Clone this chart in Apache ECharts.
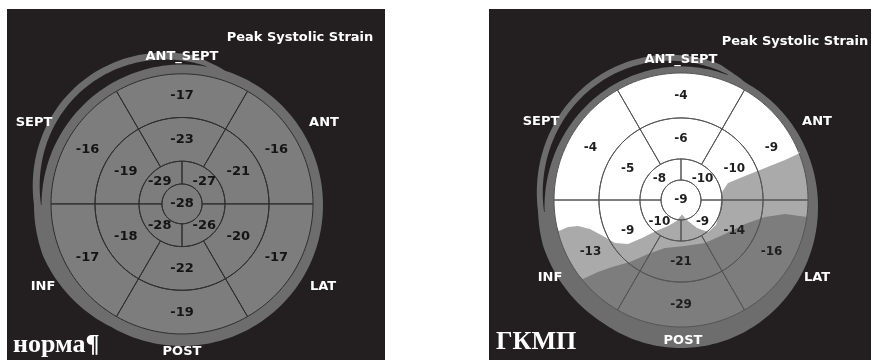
<!DOCTYPE html>
<html>
<head>
<meta charset="utf-8">
<script src="https://cdn.jsdelivr.net/npm/echarts@6/dist/echarts.min.js"></script>
<style>
  html, body { margin: 0; padding: 0; background: #ffffff; }
  #chart { width: 876px; height: 360px; }
</style>
</head>
<body>
<div id="chart"></div>
<script>
// Peak systolic longitudinal strain (%), 17-segment bull's-eye maps.
// Basal and mid rings run clockwise from the anteroseptal (top) segment,
// apical ring runs clockwise from the upper-right quadrant.
const wallLabels = ['ANT_SEPT', 'ANT', 'LAT', 'POST', 'INF', 'SEPT'];
const mapTitle = 'Peak Systolic Strain';
const panelTitles = ['норма¶', 'ГКМП'];

const normBasal  = [-17, -16, -17, -19, -17, -16];
const normMid    = [-23, -21, -20, -22, -18, -19];
const normApical = [-27, -26, -28, -29];
const normApex   = [-28];

const hcmBasal  = [-4, -9, -16, -29, -13, -4];
const hcmMid    = [-6, -10, -14, -21, -9, -5];
const hcmApical = [-10, -9, -10, -8];
const hcmApex   = [-9];

// Iso-strain boundaries of the HCM map, in bull's-eye radius units (x right, y up),
// listed from the septal side to the lateral side.
const hcmIsoWhite = [
  [-0.961, -0.244], [-0.890, -0.213], [-0.811, -0.205], [-0.717, -0.228],
  [-0.614, -0.283], [-0.520, -0.339], [-0.417, -0.346], [-0.307, -0.299],
  [-0.197, -0.244], [-0.102, -0.205], [-0.035, -0.165], [0.008, -0.115],
  [0.045, -0.158], [0.126, -0.220], [0.213, -0.252], [0.276, -0.197],
  [0.307, -0.079], [0.323, 0.063], [0.370, 0.134], [0.504, 0.189],
  [0.661, 0.252], [0.819, 0.315], [0.937, 0.370]
];
const hcmIsoLight = [
  [-0.772, -0.622], [-0.654, -0.567], [-0.543, -0.528], [-0.402, -0.488],
  [-0.260, -0.425], [-0.126, -0.378], [0.031, -0.362], [0.189, -0.339],
  [0.346, -0.268], [0.504, -0.189], [0.661, -0.134], [0.819, -0.110],
  [0.992, -0.134]
];

const BG = '#231f20';
const RING_GRAY = '#6d6d6d';
const bandColors = ['#7d7d7d', '#aaaaaa', '#ffffff'];

const panels = [
  {
    frame: [7, 9, 378, 351], cx: 182, cy: 205, R: 131,
    edges: [0, 0.153, 0.328, 0.664, 1],
    ring: { cx: 182, cy: 205, rx: 141, ry: 141, c0: 80, c1: 180, cMax: 11, b0: 72, b1: 240, bMax: 7 },
    lineColor: '#2e2e2e', valueColor: '#141414', valueFont: 'bold 13px "DejaVu Sans"',
    rings: [normBasal, normMid, normApical, normApex],
    bands: [{ level: 0, iso: null }],
    title: panelTitles[0], titlePos: [13, 345], captionPos: [300, 38],
    wallPos: [[182, 57], [324, 123], [323, 287], [182, 352], [43, 287], [34, 123]]
  },
  {
    frame: [489, 9, 382, 351], cx: 681, cy: 200, R: 127,
    edges: [0, 0.157, 0.323, 0.646, 1],
    ring: { cx: 681, cy: 207, rx: 137, ry: 141, c0: 70, c1: 182, cMax: 9, b0: 62, b1: 235, bMax: 6 },
    lineColor: '#555555', valueColor: '#1e1e1e', valueFont: 'bold 12px "DejaVu Sans"',
    rings: [hcmBasal, hcmMid, hcmApical, hcmApex],
    bands: [{ level: 0, iso: null }, { level: 1, iso: hcmIsoLight }, { level: 2, iso: hcmIsoWhite }],
    title: panelTitles[1], titlePos: [496, 342], captionPos: [795, 42],
    wallPos: [[681, 60], [817, 122], [817, 278], [683, 341], [550, 278], [541, 122]]
  }
];

const DEG = Math.PI / 180;

// Shaded band of one strain level: full disk, or the part of the disk above an iso line
function bandRenderer(panel) {
  return function (params, api) {
    const band = panel.bands[params.dataIndex];
    let pts = [];
    if (!band.iso) {
      for (let a = 0; a < 360; a += 2) pts.push([Math.cos(a * DEG), Math.sin(a * DEG)]);
    } else {
      pts = band.iso.slice();
      const first = pts[0], last = pts[pts.length - 1];
      const aS = Math.atan2(last[1], last[0]);
      let aE = Math.atan2(first[1], first[0]);
      while (aE <= aS) aE += 2 * Math.PI;
      const n = Math.ceil((aE - aS) / (2 * DEG));
      for (let i = 1; i < n; i++) {
        const a = aS + (aE - aS) * i / n;
        pts.push([Math.cos(a), Math.sin(a)]);
      }
    }
    return {
      type: 'polygon',
      shape: { points: pts.map(p => api.coord(p)) },
      style: { fill: bandColors[band.level] }
    };
  };
}

// One segment of the bull's-eye: outline plus its strain value
function segmentRenderer(panel) {
  return function (params, api) {
    const ring = api.value(0), seg = api.value(1), strain = api.value(2);
    const n = panel.rings[ring].length;
    const r0 = panel.edges[3 - ring], r1 = panel.edges[4 - ring];
    const step = 360 / n;
    const a0 = (ring === 2 ? 90 : 120) - seg * step;
    const P = (r, a) => api.coord([r * Math.cos(a * DEG), r * Math.sin(a * DEG)]);
    const pts = [];
    if (n === 1) {
      for (let a = 0; a < 360; a += 3) pts.push(P(r1, a));
    } else {
      const k = Math.max(8, Math.round(step / 2));
      for (let i = 0; i <= k; i++) pts.push(P(r1, a0 - step * i / k));
      for (let i = k; i >= 0; i--) pts.push(P(r0, a0 - step * i / k));
    }
    const lp = n === 1 ? P(0, 0) : P((r0 + r1) / 2, a0 - step / 2);
    return {
      type: 'group',
      children: [
        {
          type: 'polygon',
          shape: { points: pts },
          style: { fill: 'none', stroke: panel.lineColor, lineWidth: 1 }
        },
        {
          type: 'text',
          x: lp[0], y: lp[1],
          style: {
            text: String(strain), fill: panel.valueColor, font: panel.valueFont,
            align: 'center', verticalAlign: 'middle',
            textAlign: 'center', textVerticalAlign: 'middle'
          }
        }
      ]
    };
  };
}

// Gray rim around the map, with the dark crescent on the septal side
function rimShapes(panel) {
  const g = panel.ring;
  const taperB = a => (a < g.b0 || a > g.b1) ? 0 : g.bMax * Math.min(1, (a - g.b0) / 12, (g.b1 - a) / 40);
  const cres = a => (a < g.c0 || a > g.c1) ? 0 : g.cMax * Math.sin(Math.PI * (a - g.c0) / (g.c1 - g.c0));
  const at = (a, extra) => [g.cx + (g.rx + extra) * Math.cos(a * DEG), g.cy - (g.ry + extra) * Math.sin(a * DEG)];
  const outer = [];
  for (let a = 0; a < 360; a += 1.5) outer.push(at(a, cres(a) + taperB(a)));
  const cr = [];
  for (let a = g.c0; a <= g.c1; a += 1) cr.push(at(a, cres(a)));
  for (let a = g.c1; a >= g.c0; a -= 1) cr.push(at(a, -0.5));
  return [
    { type: 'polygon', shape: { points: outer }, style: { fill: RING_GRAY }, z: 1 },
    { type: 'polygon', shape: { points: cr }, style: { fill: BG }, z: 1.5 }
  ];
}

const grids = [], xAxes = [], yAxes = [], series = [], graphics = [];
const labelFont = 'bold 13px "DejaVu Sans"';

panels.forEach((p, i) => {
  const half = 1.2 * p.R;
  grids.push({ left: p.cx - half, top: p.cy - half, width: 2 * half, height: 2 * half });
  xAxes.push({ gridIndex: i, type: 'value', min: -1.2, max: 1.2, show: false });
  yAxes.push({ gridIndex: i, type: 'value', min: -1.2, max: 1.2, show: false });

  series.push({
    type: 'custom', name: 'bands' + i, xAxisIndex: i, yAxisIndex: i, z: 3,
    silent: true, animation: false,
    data: p.bands.map(b => [0, 0, b.level]),
    renderItem: bandRenderer(p)
  });

  const segData = [];
  p.rings.forEach((vals, r) => vals.forEach((v, s) => segData.push([r, s, v])));
  series.push({
    type: 'custom', name: 'segments' + i, xAxisIndex: i, yAxisIndex: i, z: 4,
    silent: true, animation: false,
    dimensions: ['ring', 'seg', 'strain'],
    encode: { x: 0, y: 1 },
    data: segData,
    renderItem: segmentRenderer(p)
  });

  graphics.push({
    type: 'rect', z: 0,
    shape: { x: p.frame[0], y: p.frame[1], width: p.frame[2], height: p.frame[3] },
    style: { fill: BG }
  });
  rimShapes(p).forEach(s => graphics.push(s));

  wallLabels.forEach((t, k) => {
    graphics.push({
      type: 'text', z: 10, x: p.wallPos[k][0], y: p.wallPos[k][1],
      style: { text: t, fill: '#ffffff', font: labelFont,
               align: 'center', verticalAlign: 'middle', textAlign: 'center', textVerticalAlign: 'middle' }
    });
  });
  graphics.push({
    type: 'text', z: 10, x: p.captionPos[0], y: p.captionPos[1],
    style: { text: mapTitle, fill: '#ffffff', font: labelFont,
             align: 'center', verticalAlign: 'middle', textAlign: 'center', textVerticalAlign: 'middle' }
  });
  graphics.push({
    type: 'text', z: 10, x: p.titlePos[0], y: p.titlePos[1],
    style: { text: p.title, fill: '#ffffff', font: 'bold 26px "Liberation Serif"',
             align: 'left', verticalAlign: 'middle', textAlign: 'left', textVerticalAlign: 'middle' }
  });
});

const chart = echarts.init(document.getElementById('chart'), null, { renderer: 'canvas' });
chart.setOption({
  animation: false,
  backgroundColor: '#ffffff',
  grid: grids,
  xAxis: xAxes,
  yAxis: yAxes,
  series: series,
  graphic: { elements: graphics }
});
</script>
</body>
</html>
